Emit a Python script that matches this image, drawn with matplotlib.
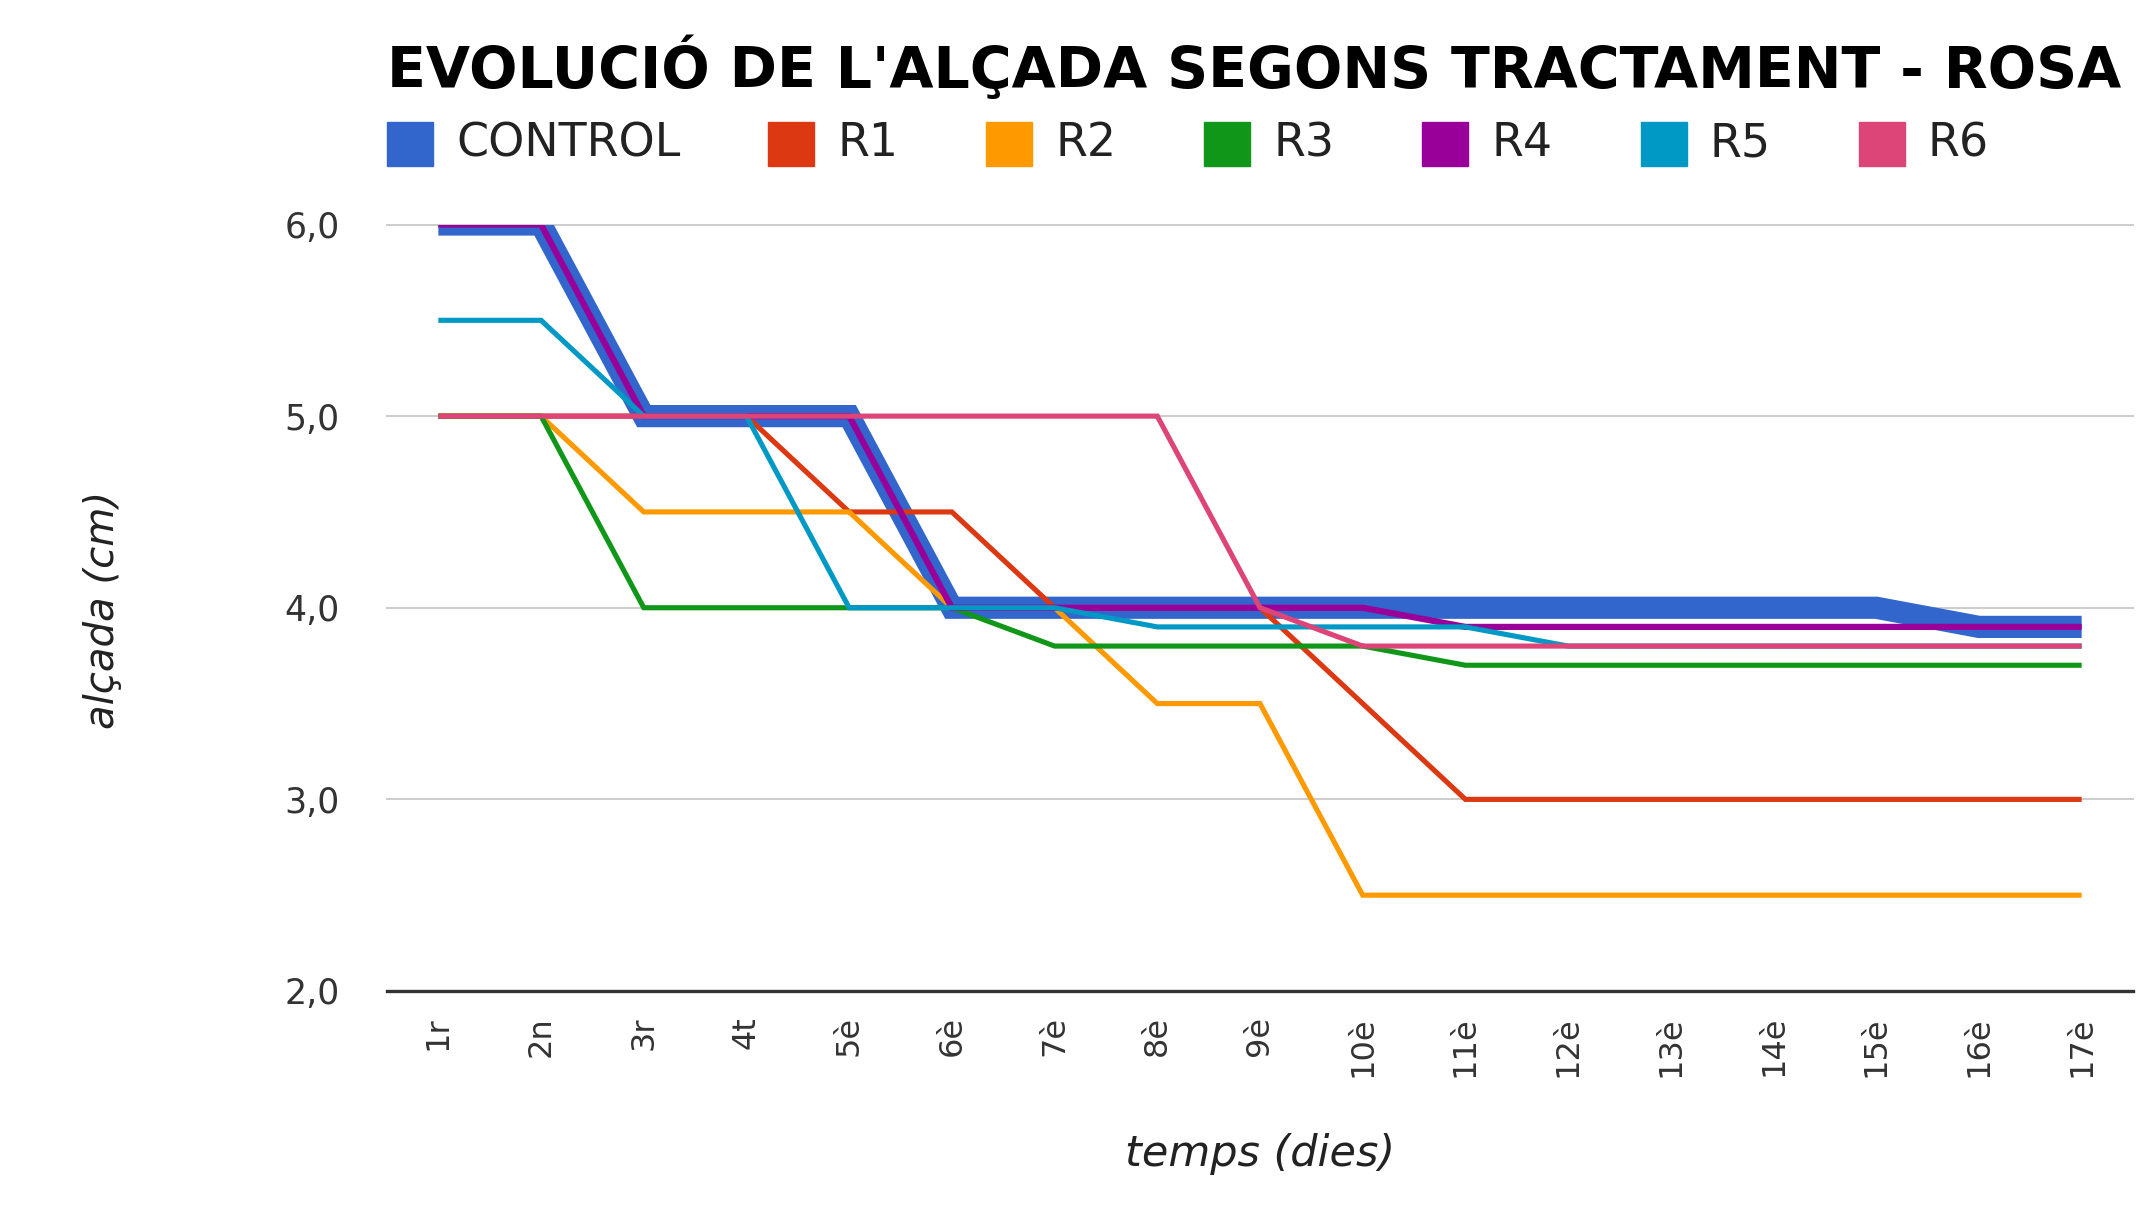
import matplotlib
matplotlib.use('Agg')
import matplotlib.pyplot as plt
from matplotlib.patches import Rectangle

# day labels on the x axis
dies = ['1r', '2n', '3r', '4t', '5è', '6è', '7è', '8è', '9è', '10è',
        '11è', '12è', '13è', '14è', '15è', '16è', '17è']

# height (cm) per treatment
control = [6.0, 6.0, 5.0, 5.0, 5.0, 4.0, 4.0, 4.0, 4.0, 4.0, 4.0, 4.0, 4.0, 4.0, 4.0, 3.9, 3.9]
r1 = [5.0, 5.0, 5.0, 5.0, 4.5, 4.5, 4.0, 4.0, 4.0, 3.5, 3.0, 3.0, 3.0, 3.0, 3.0, 3.0, 3.0]
r2 = [5.0, 5.0, 4.5, 4.5, 4.5, 4.0, 4.0, 3.5, 3.5, 2.5, 2.5, 2.5, 2.5, 2.5, 2.5, 2.5, 2.5]
r3 = [5.0, 5.0, 4.0, 4.0, 4.0, 4.0, 3.8, 3.8, 3.8, 3.8, 3.7, 3.7, 3.7, 3.7, 3.7, 3.7, 3.7]
r4 = [6.0, 6.0, 5.0, 5.0, 5.0, 4.0, 4.0, 4.0, 4.0, 4.0, 3.9, 3.9, 3.9, 3.9, 3.9, 3.9, 3.9]
r5 = [5.5, 5.5, 5.0, 5.0, 4.0, 4.0, 4.0, 3.9, 3.9, 3.9, 3.9, 3.8, 3.8, 3.8, 3.8, 3.8, 3.8]
r6 = [5.0, 5.0, 5.0, 5.0, 5.0, 5.0, 5.0, 5.0, 4.0, 3.8, 3.8, 3.8, 3.8, 3.8, 3.8, 3.8, 3.8]

noms = ['CONTROL', 'R1', 'R2', 'R3', 'R4', 'R5', 'R6']
series = [control, r1, r2, r3, r4, r5, r6]
colors = ['#3366cc', '#dc3912', '#ff9900', '#109618', '#990099', '#0099c6', '#dd4477']
widths = [16, 3.7, 3.7, 3.7, 4.5, 3.7, 3.7]

W, H = 2147, 1224
fig = plt.figure(figsize=(W / 100, H / 100), dpi=100)
ax = fig.add_axes([387 / W, 1 - 991 / H, (2133 - 387) / W, (991 - 224.5) / H])

x = list(range(len(dies)))
for i, (nom, vals) in enumerate(zip(noms, series)):
    ax.plot(x, vals, color=colors[i], lw=widths[i], zorder=3 + i,
            solid_joinstyle='miter', solid_capstyle='butt')

ax.set_xlim(-0.5, len(dies) - 0.5)
ax.set_ylim(2, 6)
ax.set_yticks([2, 3, 4, 5, 6])
ax.set_yticklabels(['2,0', '3,0', '4,0', '5,0', '6,0'])
ax.set_xticks(x)
ax.set_xticklabels(dies, rotation=90)
for sp in ax.spines.values():
    sp.set_visible(False)
ax.tick_params(axis='y', length=0, pad=34, labelsize=25, labelcolor='#333333')
ax.tick_params(axis='x', length=0, pad=18, labelsize=23, labelcolor='#333333')
for yv in [3, 4, 5, 6]:
    ax.axhline(yv, color='#cccccc', lw=1.4, zorder=1, clip_on=False)
ax.axhline(2, color='#333333', lw=2.4, zorder=2, clip_on=False)

# title
fig.text(387 / W, 1 - 88 / H, "EVOLUCIÓ DE L'ALÇADA SEGONS TRACTAMENT - ROSA",
         ha='left', va='baseline', fontsize=41, fontweight='bold', color='black')

# legend row
renderer = fig.canvas.get_renderer()
cx = 387
for nom, col in zip(noms, colors):
    fig.patches.append(Rectangle((cx / W, 1 - 166 / H), 46 / W, 44 / H,
                                 transform=fig.transFigure, color=col, figure=fig))
    t = fig.text((cx + 46 + 23) / W, 1 - 144 / H, nom, ha='left', va='center',
                 fontsize=33, color='#222222')
    bb = t.get_window_extent(renderer)
    cx = bb.x1 + 88

# axis titles
fig.text(1260 / W, 1 - 1154 / H, 'temps (dies)', ha='center', va='center',
         fontsize=31, style='italic', color='#222222')
fig.text(103 / W, 1 - 610 / H, 'alçada (cm)', ha='center', va='center',
         fontsize=29, style='italic', color='#222222', rotation=90)

fig.savefig('out.png', dpi=100, facecolor='white')
